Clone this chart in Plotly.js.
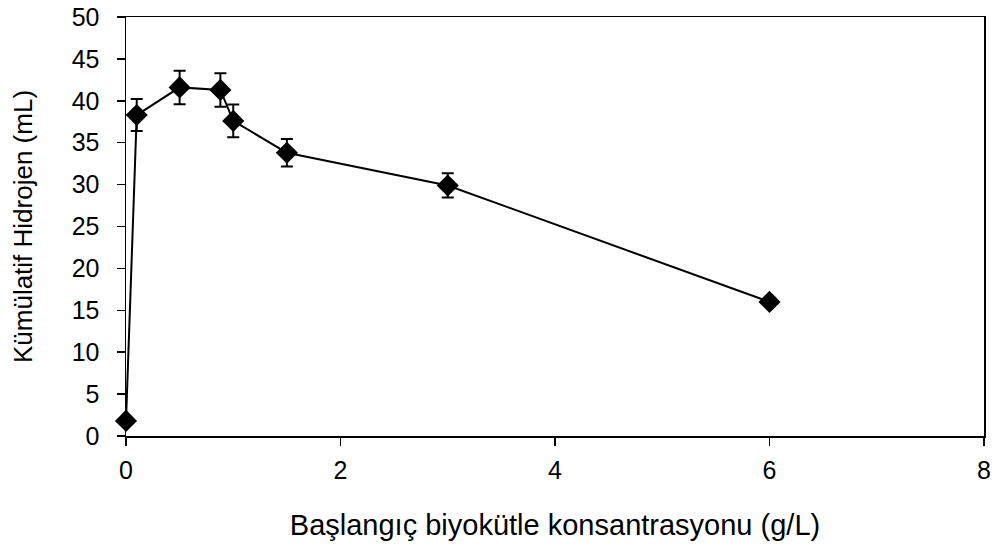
<!DOCTYPE html>
<html><head><meta charset="utf-8">
<script src="https://cdn.plot.ly/plotly-3.0.1.min.js"></script>
<style>body{margin:0;padding:0;background:#fff}#c{width:998px;height:553px}</style>
</head><body><div id="c"></div>
<script>
const biomass = [0, 0.1, 0.5, 0.88, 1.0, 1.5, 3.0, 6.0];
const hydrogen = [1.8, 38.3, 41.6, 41.3, 37.6, 33.8, 29.9, 16.0];
const hydrogenErr = [0, 1.9, 2.0, 2.0, 1.95, 1.65, 1.45, 0.5];
const xTicks = [0, 2, 4, 6, 8];
const yTicks = [0, 5, 10, 15, 20, 25, 30, 35, 40, 45, 50];

const trace = {
  x: biomass, y: hydrogen, type: 'scatter', mode: 'lines+markers',
  line: {color: '#000', width: 2},
  marker: {symbol: 'diamond', size: 17, color: '#000'},
  error_y: {type: 'data', array: hydrogenErr, visible: true, color: '#000', thickness: 2, width: 6},
  cliponaxis: false
};
const fam = 'Liberation Sans, Arial, sans-serif';
const tickFont = {family: fam, size: 25, color: '#000'};
const layout = {
  width: 998, height: 553,
  margin: {l: 126, r: 14, t: 17, b: 117},
  paper_bgcolor: '#fff', plot_bgcolor: '#fff',
  showlegend: false,
  font: tickFont,
  xaxis: {
    range: [0, 8], tickvals: xTicks, ticktext: xTicks.map(String),
    showgrid: false, zeroline: false, showline: true, linecolor: '#000', linewidth: 1.5, mirror: true,
    ticks: 'outside', ticklen: 8, tickwidth: 1.5, tickcolor: '#000', ticklabelstandoff: 3,
    tickfont: tickFont,
    title: {text: 'Başlangıç biyokütle konsantrasyonu (g/L)', font: {family: fam, size: 29, color: '#000'}, standoff: 32}
  },
  yaxis: {
    range: [0, 50], tickvals: yTicks, ticktext: yTicks.map(String),
    showgrid: false, zeroline: false, showline: true, linecolor: '#000', linewidth: 1.5, mirror: true,
    ticks: 'outside', ticklen: 8, tickwidth: 1.5, tickcolor: '#000', ticklabelstandoff: 12,
    tickfont: tickFont,
    title: {text: 'Kümülatif Hidrojen (mL)', font: {family: fam, size: 26, color: '#000'}, standoff: 31}
  }
};
Plotly.newPlot('c', [trace], layout, {displayModeBar: false, staticPlot: true});
</script></body></html>
